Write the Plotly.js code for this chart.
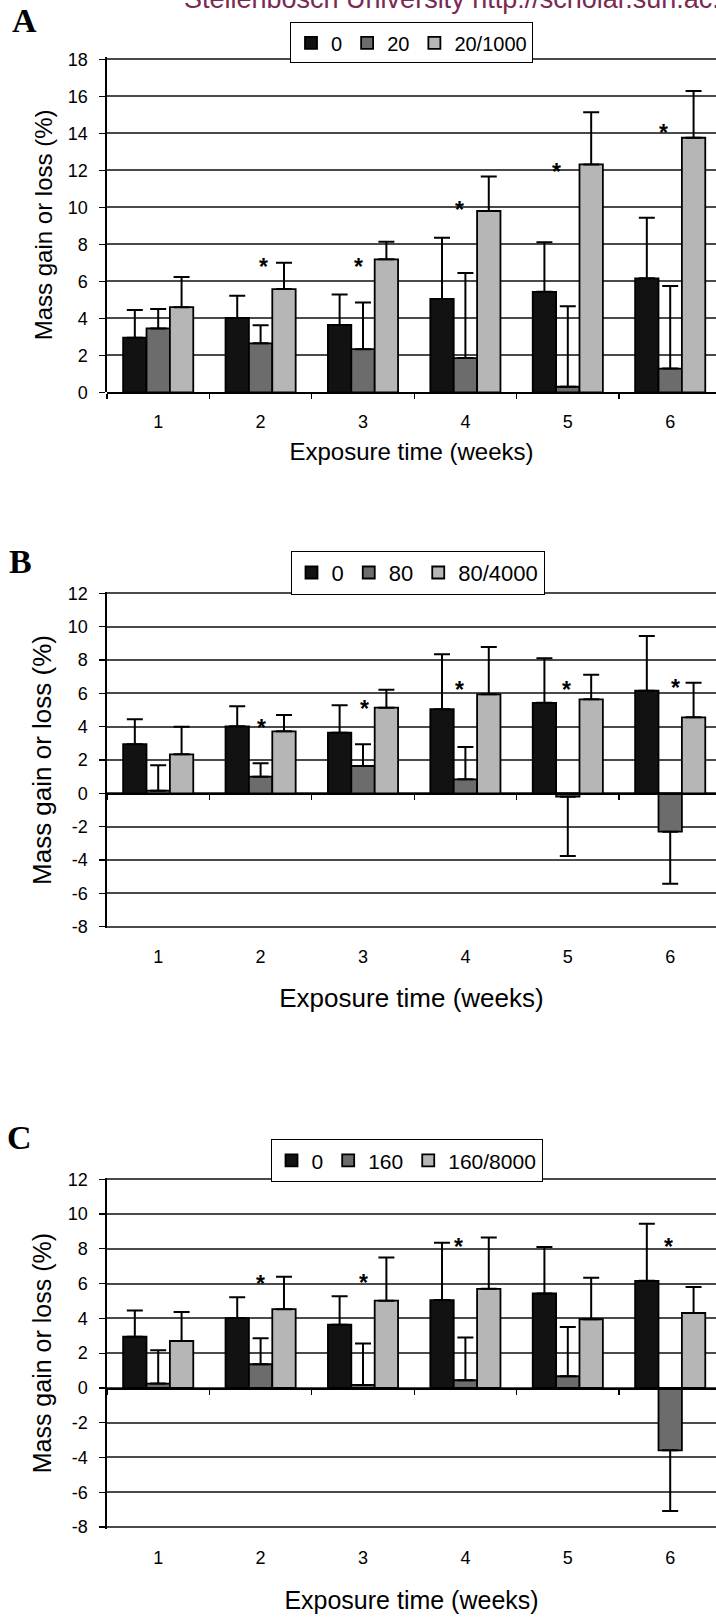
<!DOCTYPE html>
<html>
<head>
<meta charset="utf-8">
<script src="https://cdn.plot.ly/plotly-3.0.1.min.js"></script>
<style>html,body{margin:0;padding:0;background:#fff;}#chart{width:716px;height:1619px;}</style>
</head>
<body>
<div id="chart"></div>
<script>
// ---------- DATA ----------
const weeks = ['1', '2', '3', '4', '5', '6'];

// control (0) — same group in all three panels
const ctrlVals = [2.95, 4.02, 3.64, 5.05, 5.43, 6.16];
const ctrlErr  = [1.50, 1.20, 1.64, 3.30, 2.68, 3.28];

// Panel A: 20 and 20/1000
const a20Vals   = [3.45, 2.65, 2.33, 1.85, 0.30, 1.28];
const a20Err    = [1.05, 0.97, 2.52, 4.60, 4.35, 4.47];
const a1000Vals = [4.60, 5.58, 7.19, 9.80, 12.32, 13.76];
const a1000Err  = [1.63, 1.42, 0.95, 1.86, 2.82, 2.53];

// Panel B: 80 and 80/4000
const b80Vals      = [0.16, 1.00, 1.64, 0.84, -0.20, -2.30];
const b80ErrUp     = [1.52, 0.80, 1.30, 1.94, 0, 0];
const b80ErrDown   = [0, 0, 0, 0, 3.56, 3.12];
const b4000Vals    = [2.34, 3.72, 5.14, 5.94, 5.64, 4.56];
const b4000Err     = [1.66, 0.98, 1.08, 2.84, 1.48, 2.08];

// Panel C: 160 and 160/8000
const c160Vals     = [0.25, 1.36, 0.17, 0.44, 0.67, -3.59];
const c160ErrUp    = [1.92, 1.50, 2.38, 2.46, 2.84, 0];
const c160ErrDown  = [0, 0, 0, 0, 0, 3.49];
const c8000Vals    = [2.70, 4.53, 5.02, 5.70, 3.95, 4.31];
const c8000Err     = [1.67, 1.86, 2.48, 2.95, 2.38, 1.50];

// significance asterisks (category index, offset within group, height)
const starsACat = [1, 2, 3, 4, 5];
const starsAOff = [0.03, -0.04, -0.055, -0.11, -0.07];
const starsAY   = [7.03, 7.03, 10.12, 12.2, 14.27];
const starsBCat = [1, 2, 3, 4, 5];
const starsBOff = [0.01, 0.01, -0.056, -0.01, 0.05];
const starsBY   = [4.2, 5.34, 6.5, 6.5, 6.6];
const starsCCat = [1, 2, 3, 5];
const starsCOff = [0.0, 0.0, -0.065, -0.015];
const starsCY   = [6.29, 6.33, 8.4, 8.4];

// axis ticks
const yTickValsA = [0, 2, 4, 6, 8, 10, 12, 14, 16, 18];
const yTickTextA = ['0', '2', '4', '6', '8', '10', '12', '14', '16', '18'];
const yTickValsBC = [-8, -6, -4, -2, 0, 2, 4, 6, 8, 10, 12];
const yTickTextBC = ['-8', '-6', '-4', '-2', '0', '2', '4', '6', '8', '10', '12'];

const legendA = ['0', '20', '20/1000'];
const legendB = ['0', '80', '80/4000'];
const legendC = ['0', '160', '160/8000'];

const yTitle = 'Mass gain or loss (%)';
const xTitle = 'Exposure time (weeks)';

// ---------- STYLE / LAYOUT HELPERS ----------
const W = 716, H = 1619, L = 107;
const PW = W - L;
const FONT = 'Liberation Sans, Arial, sans-serif';
const SERIF = 'Liberation Serif, Times New Roman, serif';
const colBlack = '#121212', colDark = '#6c6c6c', colLight = '#b6b6b6';
const px2x = p => (p - L) / PW;
const py2y = p => 1 - p / H;
const zero = Array(6).fill(0);

function barTrace(name, vals, up, down, color, xa, ya, lg) {
  return {
    type: 'bar', name: name, x: weeks, y: vals, xaxis: xa, yaxis: ya, legend: lg,
    marker: {color: color, line: {color: '#000', width: 1.8}},
    error_y: {type: 'data', symmetric: false, array: up, arrayminus: down,
              color: '#000', thickness: 2, width: 8, visible: true},
    hoverinfo: 'skip'
  };
}

const data = [
  barTrace(legendA[0], ctrlVals, ctrlErr, zero, colBlack, 'x', 'y', 'legend'),
  barTrace(legendA[1], a20Vals, a20Err, zero, colDark, 'x', 'y', 'legend'),
  barTrace(legendA[2], a1000Vals, a1000Err, zero, colLight, 'x', 'y', 'legend'),
  barTrace(legendB[0], ctrlVals, ctrlErr, zero, colBlack, 'x2', 'y2', 'legend2'),
  barTrace(legendB[1], b80Vals, b80ErrUp, b80ErrDown, colDark, 'x2', 'y2', 'legend2'),
  barTrace(legendB[2], b4000Vals, b4000Err, zero, colLight, 'x2', 'y2', 'legend2'),
  barTrace(legendC[0], ctrlVals, ctrlErr, zero, colBlack, 'x3', 'y3', 'legend3'),
  barTrace(legendC[1], c160Vals, c160ErrUp, c160ErrDown, colDark, 'x3', 'y3', 'legend3'),
  barTrace(legendC[2], c8000Vals, c8000Err, zero, colLight, 'x3', 'y3', 'legend3')
];

// pixel placement of each panel: value v1 at pixel p1, v2 at pixel p2; range padded slightly
// so that the top/bottom gridlines are kept by the library
function panel(v1, p1, v2, p2, rng) {
  const k = (p2 - p1) / (v1 - v2);              // px per unit
  const top = p1 - (rng[1] - v1) * k;
  const bot = p2 + (v2 - rng[0]) * k;
  return {dom: [py2y(bot), py2y(top)], rng: rng};
}
const pA = panel(18, 59.3, 0, 392.3, [0, 18.1]);
const pB = panel(12, 593.3, -8, 926.7, [-8.1, 12.1]);
const pC = panel(12, 1179.3, -8, 1527, [-8.1, 12.1]);
const zeroPos = p => p.dom[0] + (0 - p.rng[0]) / (p.rng[1] - p.rng[0]) * (p.dom[1] - p.dom[0]);
const xRange = [-0.5, -0.5 + PW / 102.4];

function xAxis(anchor, labelStandoff, titleSize, titleStandoff, extra) {
  return Object.assign({
    type: 'category', domain: [0, 1], anchor: anchor, range: xRange,
    tickson: 'boundaries', ticks: 'outside', ticklen: 5, tickwidth: 1.3, tickcolor: '#000',
    showline: true, linecolor: '#000', linewidth: 1.6, showgrid: false, zeroline: false,
    tickfont: {size: 18, color: '#000'}, ticklabelstandoff: labelStandoff,
    title: {text: xTitle, font: {size: titleSize, color: '#000'}, standoff: titleStandoff}
  }, extra || {});
}
function yAxis(anchor, p, tv, tt, titleSize) {
  return {
    domain: p.dom, anchor: anchor, range: p.rng, tickvals: tv, ticktext: tt,
    ticks: 'outside', ticklen: 6, tickwidth: 1.3, tickcolor: '#000', ticklabelstandoff: 8,
    showline: true, linecolor: '#000', linewidth: 1.6,
    showgrid: true, gridcolor: '#4a4a4a', gridwidth: 2, zeroline: false,
    tickfont: {size: 18, color: '#000'},
    title: {text: yTitle, font: {size: titleSize, color: '#000'}, standoff: 8.5}
  };
}
function legendBox(cx, topPx, size) {
  return {x: px2x(cx), xanchor: 'center', y: py2y(topPx), yanchor: 'top', orientation: 'h',
          bordercolor: '#000', borderwidth: 1, bgcolor: '#fff', traceorder: 'normal',
          font: {size: size, color: '#000'}};
}

const annotations = [];
function stars(cat, off, ys, xr, yr) {
  cat.forEach((c, i) => annotations.push({
    x: c + off[i], y: ys[i], xref: xr, yref: yr, text: '*', showarrow: false,
    font: {size: 23, color: '#000', weight: 'bold'}, xanchor: 'center', yanchor: 'middle', yshift: -5
  }));
}
stars(starsACat, starsAOff, starsAY, 'x', 'y');
stars(starsBCat, starsBOff, starsBY, 'x2', 'y2');
stars(starsCCat, starsCOff, starsCY, 'x3', 'y3');

[['A', 24, 20.3], ['B', 20, 561], ['C', 19, 1137]].forEach(p => annotations.push({
  text: p[0], xref: 'paper', yref: 'paper', x: px2x(p[1]), y: py2y(p[2]),
  xanchor: 'center', yanchor: 'middle', showarrow: false,
  font: {family: SERIF, size: 34, color: '#000', weight: 'bold'}
}));
annotations.push({
  text: 'Stellenbosch University http://scholar.sun.ac.za', xref: 'paper', yref: 'paper',
  x: px2x(182), y: py2y(-18.5), xanchor: 'left', yanchor: 'top', showarrow: false,
  font: {family: FONT, size: 27, color: '#7a2a52'}
});

const layout = {
  width: W, height: H, margin: {l: L, r: 0, t: 0, b: 0},
  paper_bgcolor: '#fff', plot_bgcolor: '#fff',
  font: {family: FONT, color: '#000'},
  barmode: 'group', bargap: 0.315, bargroupgap: 0,
  showlegend: true,
  legend: legendBox(411.5, 22.3, 20),
  legend2: legendBox(417.5, 550.7, 22),
  legend3: legendBox(406.5, 1139.3, 21),
  xaxis: xAxis('free', 12, 24, 12, {position: zeroPos(pA)}),
  yaxis: yAxis('x', pA, yTickValsA, yTickTextA, 24),
  xaxis2: xAxis('free', 146, 26, 23, {position: zeroPos(pB)}),
  yaxis2: yAxis('x2', pB, yTickValsBC, yTickTextBC, 26),
  xaxis3: xAxis('free', 153, 25, 24, {position: zeroPos(pC)}),
  yaxis3: yAxis('x3', pC, yTickValsBC, yTickTextBC, 25),
  annotations: annotations
};

Plotly.newPlot('chart', data, layout, {staticPlot: true, displayModeBar: false});
</script>
</body>
</html>
